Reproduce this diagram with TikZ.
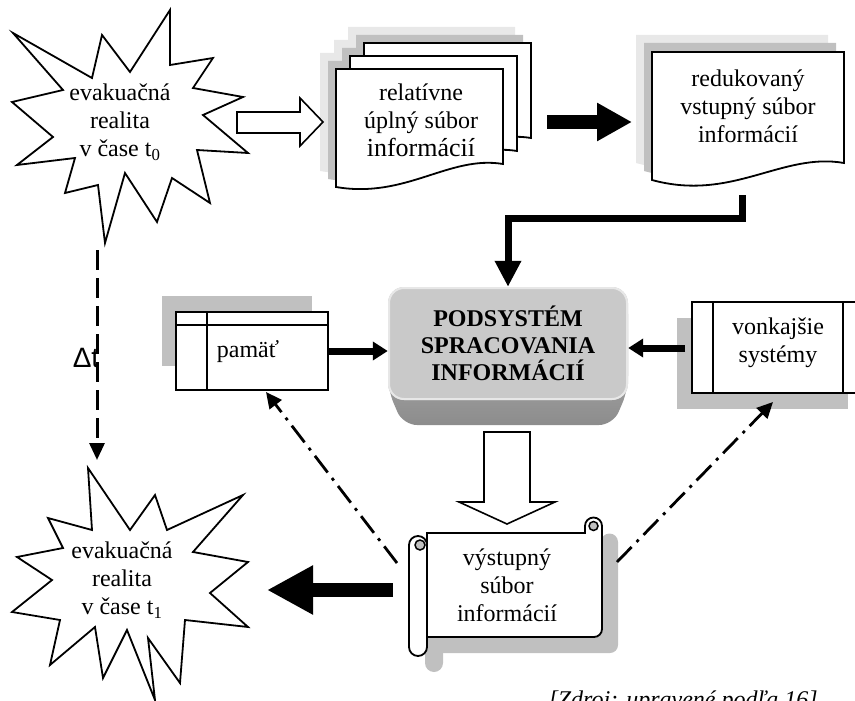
\documentclass[tikz,border=0pt]{standalone}
\usepackage{fontspec}
\setmainfont{Liberation Serif}
\newfontfamily\deltafont{Liberation Sans}
\usetikzlibrary{arrows.meta}

\definecolor{tien}{HTML}{C0C0C0}
\definecolor{svetlytien}{HTML}{E8E8E8}
\definecolor{plocha}{HTML}{C9C9C9}

\tikzset{
  obrys/.style={draw=black, line width=1.8pt, fill=white},
  text24/.style={align=center, font=\fontsize{24}{28}\selectfont},
  sipka/.style={line width=7pt, -{Triangle[length=15pt,width=18pt]}},
  hrubasipka/.style={line width=14pt, -{Triangle[length=46pt,width=46pt]}},
  dutasipka/.style={draw=black, line width=1.6pt, fill=white},
  bodkociarka/.style={line width=2.8pt, dash pattern=on 21pt off 7pt on 3pt off 7pt, -{Triangle[length=16pt,width=15pt]}},
  casova/.style={line width=3pt, dash pattern=on 20pt off 8pt, -{Triangle[length=17pt,width=15pt]}},
}

% tvary dokumentov a zvitku
\newcommand{\listdoc}{(0,0) -- (167,0) -- (167,95) .. controls (113,86) and (70,130) .. (0,118) -- cycle}
\newcommand{\reddoc}{(0,0) -- (192,0) -- (192,111) .. controls (130,100) and (80,150) .. (0,128) -- cycle}
\newcommand{\zvitoktelo}{(427,637) -- (427,533) -- (585,533) -- (585,526) arc[start angle=180,end angle=360,radius=8.5] -- (602,629) arc[start angle=0,end angle=90,radius=8] -- cycle}
\newcommand{\zvitokrolka}{(409,536) rectangle (427,656)}

\begin{document}
\begin{tikzpicture}[x=1pt,y=-1pt]
\useasboundingbox (0,0) rectangle (855,701);
\clip (0,0) rectangle (855,701);

% realita t0
\draw[obrys] (13,33) -- (92,78) -- (102,35) -- (130,72) -- (170,10) -- (170,65) -- (213,58) -- (193,88)
  -- (243,97) -- (203,115) -- (248,153) -- (197,150) -- (210,203) -- (172,178) -- (157,222) -- (125,173)
  -- (105,243) -- (98,185) -- (65,193) -- (75,158) -- (17,165) -- (53,137) -- (12,102) -- (63,90) -- cycle;
\node[text24] (real0) at (120,122) {evakuačná\\realita\\v čase t\textsubscript{0}};

% realita t1
\draw[obrys] (88,468) -- (130,530) -- (155,495) -- (167,530) -- (243,495) -- (193,552) -- (248,562) -- (210,593)
  -- (248,627) -- (185,620) -- (180,683) -- (148,638) -- (155,700) -- (127,630) -- (103,678) -- (95,627)
  -- (50,665) -- (60,620) -- (12,612) -- (52,580) -- (17,557) -- (63,548) -- (48,518) -- (92,530) -- cycle;
\node[text24] (real1) at (122,580) {evakuačná\\realita\\v čase t\textsubscript{1}};

% delta t
\coordinate (t0) at (97,250);
\coordinate (t1) at (97,460);
\draw[casova] (t0) to (t1);
\node[font=\deltafont\fontsize{28}{32}\selectfont] (dt) at (86,358) {Δt};

% uplny subor
\foreach \px/\py in {364/43,350/56,336/69}
  \fill[svetlytien, shift={(\px-16,\py-16)}] \listdoc;
\foreach \px/\py in {364/43,350/56,336/69}
  \fill[tien, shift={(\px-8,\py-8)}] \listdoc;
\foreach \px/\py in {364/43,350/56,336/69}
  \draw[obrys, shift={(\px,\py)}] \listdoc;
\node[text24] (uplny) at (421,120) {relatívne\\úplný súbor\\{\fontsize{26}{30}\selectfont informácií}};

\coordinate (sip0) at (237,112);
\draw[dutasipka] (sip0) -- ++(63,0) -- ++(0,-14) -- ++(23,24) -- ++(-23,24) -- ++(0,-13) -- ++(-63,0) -- cycle;

% redukovany subor
\fill[svetlytien, shift={(636,35)}] \reddoc;
\fill[tien, shift={(644,43)}] \reddoc;
\draw[obrys, shift={(652,52)}] \reddoc;
\node[text24] (redukovany) at (748,106) {redukovaný\\vstupný súbor\\informácií};

\coordinate (a0) at (547,122);
\coordinate (a1) at (632,122);
\draw[line width=13pt, -{Triangle[length=35pt,width=36pt]}] (a0) to (a1);

% podsystem
\shade[top color=black!27, bottom color=black!45, rounded corners=14pt] (388,300) -- (388,390) -- (403,425) -- (613,425) -- (628,390) -- (628,300) -- cycle;
\fill[plocha, rounded corners=16pt] (388,287) rectangle (628,400);
\draw[white!55!plocha, line width=2pt, rounded corners=15pt] (389,288) rectangle (627,399);
\node[text24, font=\bfseries\fontsize{24}{27}\selectfont, minimum width=240pt, minimum height=113pt] (podsystem) at (508,343.5) {PODSYSTÉM\\SPRACOVANIA\\INFORMÁCIÍ};

\coordinate (redspodok) at (742,195);
\coordinate (ohyb) at (508,218);
\draw[line width=7pt, -{Triangle[length=26pt,width=25pt]}] (redspodok) |- (ohyb) to (podsystem.north);

% pamat
\fill[tien] (162,296) rectangle (312,366);
\node[obrys, minimum width=152pt, minimum height=78pt, inner sep=0pt] (pamat) at (252,351) {};
\draw[line width=1.8pt] (176,325) -- (328,325) (207,312) -- (207,390);
\node[text24] (pamattext) at (248,352) {pamäť};
\draw[sipka] (pamat.east) to (pamat.east -| podsystem.west);

% vonkajsie systemy
\fill[tien] (677,318) rectangle (848,409);
\node[obrys, minimum width=188pt, minimum height=91pt, inner sep=0pt] (vonkajsie) at (786,347.5) {};
\draw[line width=1.8pt] (713,302) -- (713,393) (843,302) -- (843,393);
\node[text24] (vonkajsietext) at (778,343) {vonkajšie\\systémy};
\coordinate (vonstart) at (685,348);
\draw[sipka] (vonstart) to (vonstart -| podsystem.east);

% vystupny subor
\coordinate (dole0) at (484,432);
\draw[dutasipka] (dole0) -- ++(0,70) -- ++(-25,0) -- ++(48,22) -- ++(48,-22) -- ++(-25,0) -- ++(0,-70) -- cycle;

\fill[tien, shift={(16,16)}] \zvitoktelo;
\fill[tien, shift={(16,16)}, rounded corners=9pt] \zvitokrolka;
\draw[obrys] \zvitoktelo;
\draw[obrys, rounded corners=9pt] \zvitokrolka;
\draw[line width=1.5pt, fill=tien] (593.5,526) circle[radius=4.5];
\draw[line width=1.5pt, fill=tien] (420,545) circle[radius=5];
\node[text24] (vystup) at (507,585) {výstupný\\súbor\\informácií};

\coordinate (spat0) at (393,590);
\coordinate (spat1) at (267,590);
\draw[hrubasipka] (spat0) to (spat1);

% spatne vazby
\coordinate (bod1) at (397,563);
\coordinate (bod1k) at (266,392);
\draw[bodkociarka] (bod1) to (bod1k);
\coordinate (bod2) at (617,562);
\coordinate (bod2k) at (773,402);
\draw[bodkociarka] (bod2) to (bod2k);

\node[anchor=base west, font=\itshape\fontsize{24}{28}\selectfont] (zdroj) at (545,707) {[Zdroj: upravené podľa 16]};
\end{tikzpicture}
\end{document}
